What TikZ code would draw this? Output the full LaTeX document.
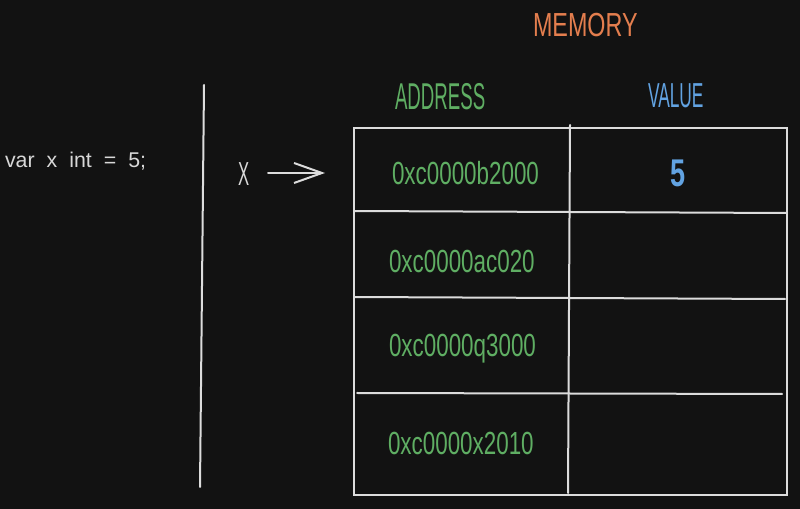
\documentclass[tikz,border=0pt]{standalone}
\usepackage{fontspec}
\setmainfont{Liberation Sans}
\newfontfamily\handN{Liberation Sans}[FakeStretch=0.7]
\newfontfamily\handC{Liberation Sans}[FakeStretch=0.5]
\newfontfamily\handW{Liberation Sans}
\usetikzlibrary{arrows.meta}
\definecolor{bgc}{HTML}{121212}
\definecolor{linec}{HTML}{DCDCDC}
\definecolor{textc}{HTML}{D8D8D8}
\definecolor{memc}{HTML}{E47E4E}
\definecolor{addrc}{HTML}{5FAE63}
\definecolor{valc}{HTML}{62A3E2}
\tikzset{
  sketch/.style={draw=linec, line width=1.5pt, line cap=round},
  lbl/.style={anchor=base west, inner sep=0pt, outer sep=0pt},
  addr/.style={lbl, text=addrc, font=\handN\fontsize{24}{28}\selectfont},
}
\begin{document}
\begin{tikzpicture}[x=0.75pt,y=-0.75pt]
\fill[bgc] (0,0) rectangle (800,509);
\useasboundingbox (0,0) rectangle (800,509);

% code text
\node[lbl, text=textc, font=\handW\fontsize{16}{18}\selectfont] (code) at (5,168)
  {\spaceskip=9pt var x int = 5;};

% divider
\coordinate (divT) at (204,85);
\coordinate (divB) at (200,487);
\draw[sketch] (divT) -- (divB);

% X and arrow
\node[lbl, text=textc, font=\handC\fontsize{25}{28}\selectfont] (X) at (238,186) {X};
\coordinate (arrS) at (268,173);
\coordinate (arrE) at (325,173);
\draw[sketch, -{Straight Barb[length=21pt, width=15pt, line width=1.5pt]}] (arrS) -- (arrE);

% titles
\node[lbl, text=memc, font=\handN\fontsize{25}{28}\selectfont] (mem) at (533,37) {MEMORY};
\node[lbl, text=addrc, font=\handC\fontsize{28}{30}\selectfont] (addrh) at (395,110) {ADDRESS};
\node[lbl, text=valc, font=\handC\fontsize{26}{30}\selectfont] (valh) at (648,108) {VALUE};

% table
\coordinate (tl) at (354,128);
\coordinate (br) at (787,495);
\draw[sketch] (tl) rectangle (br);
\draw[sketch] (570,125) -- (568,493);
\draw[sketch] (354,211) -- (787,213);
\draw[sketch] (354,297) -- (785,299);
\draw[sketch] (357,393) -- (782,394);

% addresses
\node[addr] (a1) at (392,185) {0xc0000b2000};
\node[addr] (a2) at (389,273) {0xc0000ac020};
\node[addr] (a3) at (389,357) {0xc0000q3000};
\node[addr] (a4) at (388,455) {0xc0000x2010};

% value
\node[lbl, text=valc, font=\handN\bfseries\fontsize{29}{32}\selectfont] (v1) at (670,187) {5};
\end{tikzpicture}
\end{document}
